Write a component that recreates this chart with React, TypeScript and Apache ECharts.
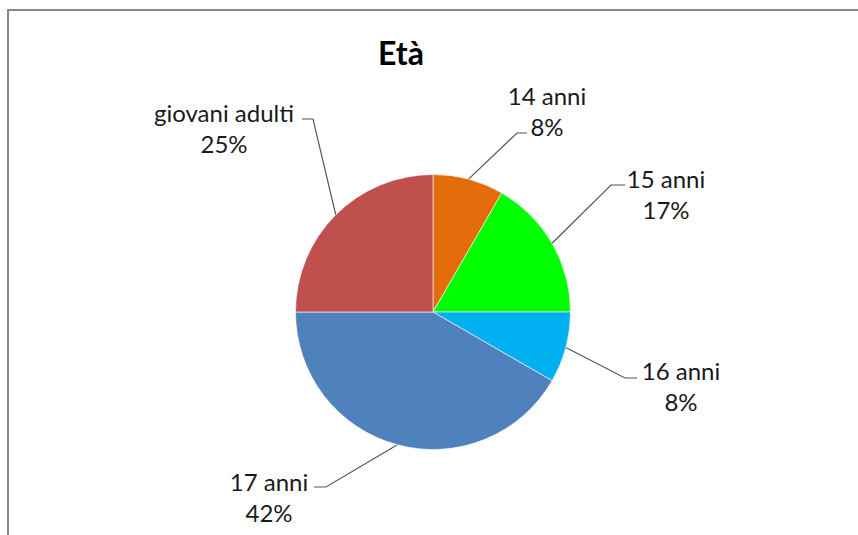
import React, { useEffect, useRef } from "react";
import * as echarts from "echarts";

const categories = ["14 anni", "15 anni", "16 anni", "17 anni", "giovani adulti"];
const counts = [1, 2, 1, 5, 3];
const colors = ["#E46C0A", "#00FF00", "#00B0F0", "#4F81BD", "#C0504D"];
const titleText = "Età";

// label anchor layout (centre of two-line label) and leader elbow points
const labelCenters = [
  [547, 111],
  [666, 194],
  [681, 386],
  [269, 497],
  [224, 128],
];
const elbows = [
  [[517, 133], [527, 133]],
  [[611, 185], [625, 185]],
  [[625, 378], [637, 378]],
  [[326, 487], [314, 487]],
  [[313, 119], [302, 119]],
];

export default function App() {
  const ref = useRef<HTMLDivElement>(null);
  useEffect(() => {
    if (!ref.current) return;
    const chart = echarts.init(ref.current, undefined, { renderer: "svg" });
    const total = counts.reduce((a, b) => a + b, 0);
    chart.setOption({
      animation: false,
      backgroundColor: "#ffffff",
      title: {
        text: titleText,
        left: 373,
        top: 31,
        textStyle: { fontFamily: "Lato", fontWeight: "bold", fontSize: 32, color: "#000" },
      },
      graphic: [
        {
          type: "rect",
          shape: { x: 8, y: 10, width: 900, height: 600 },
          style: { fill: "none", stroke: "#878787", lineWidth: 2 },
          silent: true,
        },
      ],
      series: [
        {
          type: "pie",
          center: [433, 312],
          radius: 137.5,
          startAngle: 90,
          clockwise: true,
          data: categories.map((c, i) => ({
            name: c,
            value: counts[i],
            itemStyle: { color: colors[i] },
          })),
          itemStyle: { borderColor: "#ffffff", borderWidth: 0.6 },
          label: {
            show: true,
            position: "outside",
            formatter: (p: any) => `${p.name}\n${Math.round((p.value / total) * 100)}%`,
            fontFamily: "Lato",
            fontSize: 24,
            lineHeight: 31,
            color: "#1a1a1a",
            align: "center",
          },
          labelLine: {
            show: true,
            lineStyle: { color: "#555555", width: 1.2 },
          },
          labelLayout: (params: any) => {
            const i = params.dataIndex;
            const start = params.labelLinePoints ? params.labelLinePoints[0] : elbows[i][0];
            const e = elbows[i];
            return {
              x: labelCenters[i][0],
              y: labelCenters[i][1],
              align: "center",
              verticalAlign: "middle",
              labelLinePoints: [start, e[0], e[1]],
            };
          },
          emphasis: { disabled: true },
        },
      ],
    });
    return () => chart.dispose();
  }, []);
  return (
    <div
      ref={ref}
      style={{ position: "fixed", left: 0, top: 0, width: 858, height: 535 }}
    />
  );
}
